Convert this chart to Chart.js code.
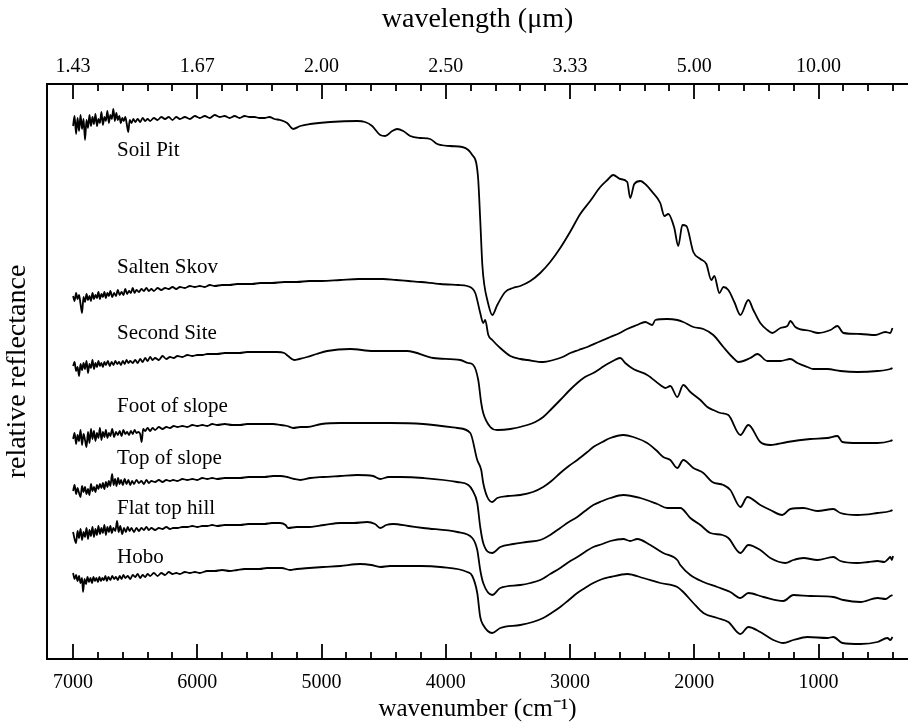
<!DOCTYPE html>
<html>
<head>
<meta charset="utf-8">
<script src="https://cdn.jsdelivr.net/npm/chart.js@4.4.0/dist/chart.umd.min.js"></script>
<style>
  html, body { margin: 0; padding: 0; background: #fff; }
  #wrap { width: 908px; height: 722px; position: relative; }
</style>
</head>
<body>
<div id="wrap"><canvas id="spectra"></canvas></div>
<script>
// sample names, top to bottom
const sampleNames = ['Soil Pit', 'Salten Skov', 'Second Site', 'Foot of slope', 'Top of slope', 'Flat top hill', 'Hobo'];

// bottom axis tick labels (cm-1), top axis shows 10000/wn in µm
const majorTicks = [7000, 6000, 5000, 4000, 3000, 2000, 1000];

// [wavenumber, relative reflectance (stacked, arbitrary units)]
const soilPit = [
  [7000,5.33],[6988,5.43],[6976,5.25],[6964,5.41],[6952,5.28],[6940,5.44],[6928,5.30],[6916,5.40],[6904,5.19],[6892,5.39],
  [6880,5.31],[6868,5.44],[6856,5.33],[6844,5.42],[6832,5.35],[6820,5.45],[6808,5.33],[6796,5.40],[6784,5.36],[6772,5.47],
  [6760,5.34],[6748,5.42],[6736,5.38],[6724,5.48],[6712,5.36],[6700,5.44],[6688,5.40],[6676,5.50],[6664,5.38],[6652,5.46],
  [6640,5.39],[6628,5.43],[6616,5.36],[6604,5.41],[6592,5.38],[6580,5.42],[6568,5.35],[6556,5.27],[6544,5.39],[6530,5.36],
  [6515,5.40],[6500,5.37],[6480,5.40],[6460,5.37],[6440,5.41],[6420,5.38],[6400,5.40],[6380,5.38],[6350,5.41],[6320,5.39],
  [6290,5.42],[6260,5.40],[6230,5.42],[6200,5.39],[6170,5.42],[6140,5.40],[6100,5.42],[6060,5.40],[6020,5.43],[5980,5.41],
  [5940,5.43],[5900,5.41],[5860,5.44],[5820,5.42],[5780,5.43],[5740,5.41],[5700,5.43],[5660,5.41],[5620,5.43],[5580,5.42],
  [5540,5.42],[5500,5.41],[5460,5.41],[5420,5.42],[5380,5.40],[5334,5.39],[5277,5.36],[5229,5.30],[5172,5.33],[5092,5.35],
  [4931,5.37],[4714,5.38],[4650,5.37],[4593,5.33],[4528,5.24],[4488,5.23],[4432,5.28],[4392,5.30],[4343,5.28],[4287,5.23],
  [4206,5.21],[4126,5.20],[4069,5.15],[3964,5.13],[3868,5.12],[3819,5.09],[3787,5.04],[3755,4.96],[3739,4.79],[3723,4.39],
  [3706,3.94],[3690,3.74],[3666,3.59],[3626,3.44],[3586,3.54],[3522,3.67],[3460,3.71],[3401,3.73],[3320,3.78],[3240,3.86],
  [3160,3.97],[3079,4.11],[3000,4.27],[2918,4.45],[2838,4.58],[2757,4.72],[2700,4.79],[2653,4.84],[2596,4.80],[2540,4.77],
  [2516,4.61],[2483,4.75],[2435,4.78],[2387,4.74],[2338,4.67],[2274,4.56],[2241,4.43],[2209,4.45],[2161,4.31],[2129,4.13],
  [2096,4.34],[2064,4.33],[2008,4.07],[1951,4.00],[1903,3.95],[1863,3.79],[1839,3.83],[1798,3.66],[1766,3.72],[1726,3.69],
  [1678,3.57],[1629,3.44],[1565,3.59],[1525,3.49],[1469,3.36],[1412,3.29],[1372,3.26],[1307,3.31],[1251,3.33],[1227,3.38],
  [1187,3.32],[1066,3.28],[1001,3.26],[904,3.29],[848,3.33],[800,3.26],[663,3.25],[543,3.24],[462,3.27],[422,3.26],[405,3.31]
];

const saltenSkov = [
  [7000,3.63],[6988,3.58],[6976,3.66],[6964,3.60],[6952,3.64],[6940,3.55],[6928,3.46],[6916,3.62],[6904,3.57],[6892,3.65],
  [6880,3.59],[6868,3.63],[6856,3.58],[6844,3.66],[6832,3.60],[6820,3.64],[6808,3.61],[6796,3.67],[6784,3.60],[6772,3.65],
  [6760,3.62],[6748,3.67],[6736,3.61],[6724,3.66],[6712,3.63],[6700,3.68],[6685,3.62],[6670,3.66],[6655,3.63],[6640,3.69],
  [6625,3.64],[6610,3.67],[6595,3.64],[6580,3.70],[6565,3.65],[6550,3.68],[6535,3.66],[6520,3.71],[6505,3.66],[6490,3.69],
  [6470,3.67],[6450,3.70],[6430,3.68],[6410,3.71],[6390,3.68],[6370,3.70],[6350,3.68],[6320,3.71],[6290,3.69],[6260,3.71],
  [6230,3.70],[6200,3.72],[6170,3.70],[6140,3.72],[6100,3.71],[6060,3.73],[6020,3.72],[5980,3.73],[5940,3.72],[5900,3.74],
  [5860,3.73],[5800,3.74],[5740,3.74],[5680,3.75],[5620,3.75],[5560,3.75],[5494,3.76],[5400,3.76],[5300,3.77],[5200,3.77],
  [5100,3.78],[5000,3.78],[4850,3.79],[4700,3.80],[4504,3.80],[4400,3.79],[4300,3.78],[4200,3.77],[4045,3.75],[3900,3.74],
  [3828,3.73],[3763,3.66],[3723,3.46],[3699,3.36],[3683,3.39],[3658,3.24],[3626,3.19],[3562,3.11],[3481,3.03],[3400,3.00],
  [3344,2.99],[3216,2.97],[3135,2.99],[3060,3.02],[2998,3.06],[2930,3.09],[2861,3.12],[2770,3.17],[2676,3.22],[2600,3.26],
  [2540,3.30],[2460,3.34],[2395,3.37],[2338,3.34],[2314,3.39],[2220,3.40],[2137,3.39],[2089,3.37],[2008,3.32],[1927,3.30],
  [1847,3.24],[1766,3.12],[1694,3.02],[1645,2.97],[1549,3.01],[1492,3.05],[1412,2.98],[1307,2.98],[1227,3.00],[1170,2.96],
  [1090,2.92],[1042,2.90],[929,2.90],[824,2.88],[687,2.87],[526,2.88],[422,2.90],[405,2.91]
];

const secondSite = [
  [7000,2.93],[6988,2.97],[6976,2.88],[6964,2.92],[6952,2.83],[6940,2.95],[6928,2.89],[6916,2.96],[6904,2.90],[6892,2.98],
  [6880,2.86],[6868,2.95],[6856,2.91],[6844,2.99],[6832,2.90],[6820,2.96],[6808,2.92],[6796,2.98],[6784,2.93],[6772,2.96],
  [6760,2.92],[6748,2.97],[6736,2.94],[6720,2.98],[6705,2.93],[6690,2.97],[6675,2.94],[6660,2.98],[6645,2.95],[6630,2.97],
  [6615,2.94],[6600,2.98],[6585,2.95],[6570,2.99],[6555,2.96],[6540,2.98],[6520,2.96],[6500,2.99],[6480,2.96],[6460,3.00],
  [6440,2.97],[6420,3.01],[6400,2.98],[6380,3.02],[6360,2.99],[6340,3.01],[6310,2.99],[6280,3.03],[6250,3.00],[6220,3.02],
  [6190,3.01],[6160,3.03],[6120,3.02],[6080,3.04],[6040,3.03],[6000,3.04],[5960,3.04],[5920,3.05],[5880,3.05],[5840,3.05],
  [5780,3.06],[5720,3.06],[5660,3.06],[5600,3.07],[5540,3.07],[5480,3.07],[5420,3.07],[5360,3.07],[5300,3.06],[5270,3.03],
  [5220,2.99],[5180,3.00],[5116,3.02],[5040,3.05],[4955,3.08],[4770,3.10],[4585,3.08],[4311,3.08],[4101,3.01],[3884,2.99],
  [3820,2.96],[3779,2.94],[3739,2.79],[3715,2.56],[3699,2.46],[3642,2.32],[3586,2.29],[3481,2.30],[3344,2.34],[3280,2.37],
  [3216,2.42],[3150,2.50],[3079,2.59],[3010,2.68],[2942,2.76],[2880,2.82],[2813,2.86],[2750,2.91],[2700,2.95],[2640,2.99],
  [2596,3.01],[2556,2.96],[2491,2.90],[2379,2.84],[2274,2.74],[2233,2.71],[2193,2.73],[2137,2.62],[2089,2.74],[2032,2.67],
  [1951,2.59],[1895,2.52],[1847,2.49],[1790,2.46],[1726,2.44],[1629,2.24],[1565,2.34],[1469,2.17],[1388,2.14],[1332,2.15],
  [1251,2.17],[1066,2.20],[929,2.21],[848,2.23],[808,2.17],[687,2.16],[526,2.16],[422,2.18],[405,2.19]
];

const footOfSlope = [
  [7000,2.20],[6988,2.26],[6976,2.15],[6964,2.24],[6952,2.18],[6940,2.29],[6928,2.14],[6916,2.25],[6904,2.19],[6892,2.12],
  [6880,2.27],[6868,2.16],[6856,2.30],[6844,2.20],[6832,2.28],[6820,2.18],[6808,2.26],[6796,2.21],[6784,2.31],[6772,2.19],
  [6760,2.27],[6748,2.22],[6736,2.29],[6724,2.21],[6712,2.26],[6700,2.23],[6685,2.30],[6670,2.22],[6655,2.27],[6640,2.24],
  [6625,2.28],[6610,2.23],[6595,2.29],[6580,2.25],[6565,2.27],[6550,2.24],[6535,2.28],[6520,2.25],[6505,2.29],[6490,2.26],
  [6475,2.27],[6460,2.25],[6448,2.17],[6436,2.30],[6420,2.28],[6400,2.31],[6380,2.28],[6360,2.31],[6340,2.29],[6310,2.32],
  [6280,2.30],[6250,2.32],[6220,2.31],[6190,2.33],[6160,2.32],[6120,2.33],[6080,2.32],[6040,2.34],[6000,2.33],[5960,2.34],
  [5920,2.33],[5880,2.35],[5840,2.34],[5780,2.35],[5720,2.34],[5655,2.34],[5600,2.35],[5540,2.35],[5480,2.35],[5420,2.35],
  [5390,2.35],[5330,2.34],[5277,2.33],[5229,2.31],[5170,2.32],[5116,2.32],[5000,2.35],[4850,2.36],[4700,2.36],[4448,2.36],
  [4182,2.35],[3908,2.31],[3803,2.26],[3747,1.99],[3715,1.89],[3699,1.76],[3666,1.62],[3626,1.57],[3586,1.61],[3500,1.63],
  [3401,1.64],[3300,1.67],[3216,1.72],[3150,1.78],[3079,1.86],[3010,1.93],[2942,1.99],[2861,2.07],[2813,2.12],[2740,2.17],
  [2676,2.21],[2571,2.24],[2491,2.22],[2379,2.16],[2300,2.08],[2250,2.02],[2193,1.99],[2137,1.91],[2089,1.99],[2008,1.91],
  [1927,1.86],[1855,1.77],[1766,1.74],[1710,1.69],[1629,1.52],[1573,1.62],[1469,1.54],[1388,1.49],[1291,1.44],[1227,1.50],
  [1122,1.51],[1009,1.48],[881,1.50],[824,1.46],[687,1.44],[526,1.46],[422,1.48],[405,1.49]
];

const topOfSlope = [
  [7000,1.68],[6988,1.74],[6976,1.65],[6964,1.71],[6952,1.66],[6940,1.62],[6928,1.73],[6916,1.67],[6904,1.72],[6892,1.65],
  [6880,1.70],[6868,1.64],[6856,1.75],[6844,1.68],[6832,1.72],[6820,1.67],[6808,1.74],[6796,1.70],[6784,1.75],[6772,1.71],
  [6760,1.76],[6748,1.70],[6736,1.77],[6724,1.72],[6712,1.78],[6700,1.73],[6686,1.85],[6674,1.74],[6662,1.80],[6650,1.73],
  [6638,1.81],[6626,1.75],[6614,1.79],[6600,1.74],[6585,1.80],[6570,1.75],[6555,1.79],[6540,1.74],[6525,1.78],[6510,1.75],
  [6490,1.79],[6470,1.76],[6450,1.78],[6430,1.75],[6410,1.79],[6390,1.76],[6370,1.78],[6340,1.77],[6310,1.79],[6280,1.77],
  [6250,1.79],[6220,1.78],[6195,1.79],[6160,1.78],[6120,1.80],[6080,1.79],[6040,1.80],[6000,1.79],[5960,1.81],[5920,1.80],
  [5880,1.81],[5840,1.80],[5780,1.81],[5720,1.81],[5655,1.81],[5590,1.82],[5520,1.82],[5460,1.82],[5390,1.83],[5330,1.83],
  [5277,1.82],[5220,1.80],[5172,1.79],[5090,1.81],[4987,1.82],[4850,1.83],[4713,1.84],[4585,1.83],[4528,1.80],[4460,1.82],
  [4367,1.82],[4182,1.81],[3908,1.77],[3819,1.74],[3787,1.69],[3747,1.56],[3723,1.32],[3699,1.16],[3626,1.06],[3562,1.12],
  [3457,1.15],[3350,1.17],[3240,1.19],[3160,1.24],[3079,1.31],[3010,1.37],[2942,1.42],[2880,1.48],[2813,1.54],[2740,1.58],
  [2676,1.61],[2571,1.64],[2435,1.61],[2298,1.55],[2217,1.51],[2113,1.51],[2032,1.41],[1951,1.34],[1871,1.26],[1774,1.24],
  [1726,1.21],[1629,1.06],[1565,1.14],[1469,1.09],[1388,1.01],[1267,0.96],[1203,0.99],[1122,1.01],[1009,0.99],[881,1.02],
  [824,0.98],[687,0.96],[600,0.97],[526,0.98],[470,0.97],[440,1.00],[422,1.02],[410,0.99],[400,1.03]
];

const flatTopHill = [
  [7000,1.27],[6988,1.20],[6976,1.16],[6964,1.28],[6952,1.21],[6940,1.30],[6928,1.19],[6916,1.27],[6904,1.22],[6892,1.31],
  [6880,1.20],[6868,1.29],[6856,1.23],[6844,1.32],[6832,1.22],[6820,1.30],[6808,1.24],[6796,1.33],[6784,1.25],[6772,1.31],
  [6760,1.26],[6748,1.34],[6736,1.24],[6724,1.32],[6712,1.27],[6700,1.33],[6688,1.26],[6676,1.31],[6660,1.28],[6646,1.38],
  [6634,1.27],[6620,1.33],[6605,1.25],[6590,1.31],[6575,1.27],[6560,1.32],[6545,1.28],[6530,1.31],[6510,1.27],[6490,1.31],
  [6470,1.28],[6450,1.31],[6430,1.29],[6410,1.32],[6390,1.29],[6370,1.31],[6340,1.29],[6310,1.31],[6280,1.30],[6250,1.32],
  [6220,1.30],[6195,1.31],[6160,1.31],[6120,1.32],[6080,1.32],[6040,1.33],[6000,1.32],[5960,1.33],[5920,1.33],[5880,1.34],
  [5840,1.33],[5780,1.34],[5720,1.34],[5655,1.34],[5590,1.35],[5520,1.35],[5460,1.35],[5400,1.36],[5334,1.36],[5290,1.34],
  [5269,1.31],[5200,1.32],[5116,1.32],[4980,1.34],[4850,1.36],[4740,1.36],[4633,1.37],[4570,1.35],[4528,1.31],[4480,1.34],
  [4423,1.35],[4300,1.33],[4182,1.31],[3908,1.27],[3787,1.21],[3747,1.09],[3723,0.89],[3699,0.76],[3626,0.64],[3562,0.71],
  [3401,0.74],[3320,0.76],[3240,0.79],[3160,0.85],[3079,0.91],[3010,0.97],[2942,1.02],[2880,1.07],[2813,1.12],[2740,1.15],
  [2676,1.18],[2571,1.20],[2516,1.18],[2459,1.20],[2354,1.14],[2250,1.06],[2137,0.99],[2113,0.94],[2032,0.84],[1927,0.77],
  [1815,0.72],[1710,0.67],[1629,0.61],[1565,0.66],[1444,0.62],[1283,0.58],[1203,0.64],[1066,0.63],[881,0.62],[800,0.59],
  [663,0.57],[526,0.61],[460,0.60],[422,0.63],[405,0.64]
];

const hobo = [
  [7000,0.86],[6988,0.80],[6976,0.84],[6964,0.78],[6952,0.83],[6940,0.76],[6928,0.81],[6920,0.67],[6908,0.80],[6896,0.75],
  [6884,0.82],[6872,0.77],[6860,0.81],[6848,0.76],[6836,0.82],[6824,0.78],[6812,0.81],[6800,0.77],[6788,0.82],[6776,0.78],
  [6764,0.81],[6752,0.79],[6740,0.83],[6728,0.78],[6716,0.82],[6700,0.79],[6685,0.83],[6670,0.80],[6655,0.82],[6640,0.79],
  [6625,0.83],[6610,0.80],[6595,0.84],[6580,0.81],[6560,0.83],[6540,0.80],[6520,0.84],[6500,0.82],[6480,0.85],[6460,0.81],
  [6440,0.84],[6420,0.82],[6400,0.85],[6380,0.83],[6350,0.86],[6320,0.83],[6290,0.86],[6260,0.84],[6230,0.87],[6200,0.85],
  [6170,0.86],[6140,0.85],[6100,0.87],[6060,0.86],[6020,0.87],[5980,0.86],[5921,0.88],[5860,0.88],[5800,0.89],[5740,0.88],
  [5680,0.89],[5620,0.90],[5560,0.90],[5500,0.90],[5440,0.91],[5390,0.91],[5320,0.91],[5253,0.89],[5200,0.90],[5100,0.91],
  [4987,0.92],[4850,0.93],[4689,0.95],[4600,0.94],[4528,0.92],[4450,0.93],[4367,0.93],[4200,0.93],[4045,0.92],[3828,0.87],
  [3787,0.83],[3747,0.66],[3723,0.42],[3699,0.34],[3626,0.26],[3562,0.31],[3401,0.34],[3300,0.37],[3216,0.41],[3150,0.46],
  [3079,0.52],[3010,0.59],[2942,0.66],[2880,0.71],[2813,0.76],[2740,0.80],[2676,0.82],[2540,0.85],[2411,0.81],[2274,0.76],
  [2137,0.72],[2089,0.67],[2008,0.56],[1927,0.46],[1815,0.41],[1726,0.37],[1629,0.25],[1565,0.32],[1469,0.27],[1364,0.19],
  [1283,0.16],[1203,0.19],[1090,0.22],[929,0.21],[881,0.22],[808,0.16],[663,0.15],[526,0.17],[446,0.21],[422,0.19],[405,0.22]
];

const spectra = [soilPit, saltenSkov, secondSite, footOfSlope, topOfSlope, flatTopHill, hobo];

// where each sample name is written (wavenumber, reflectance)
const labelWn = 6646;
const labelR = [5.09, 3.92, 3.26, 2.53, 2.01, 1.51, 1.02];

const FONT = '"Liberation Serif", "Times New Roman", serif';

// inward tick marks every 200 cm-1, long ones on the thousands
const tickMarks = {
  id: 'tickMarks',
  afterDraw(chart) {
    const { ctx, chartArea, scales } = chart;
    const xs = scales.x;
    ctx.save();
    ctx.strokeStyle = '#000';
    ctx.lineWidth = 1.8;
    ctx.beginPath();
    for (let v = 7000; v >= 400; v -= 200) {
      const px = Math.round(xs.getPixelForValue(v));
      const len = v % 1000 === 0 ? 15 : 7;
      ctx.moveTo(px, chartArea.bottom);
      ctx.lineTo(px, chartArea.bottom - len);
      ctx.moveTo(px, chartArea.top);
      ctx.lineTo(px, chartArea.top + len);
    }
    ctx.stroke();
    ctx.restore();
  }
};

const sampleLabels = {
  id: 'sampleLabels',
  afterDatasetsDraw(chart) {
    const { ctx, scales } = chart;
    ctx.save();
    ctx.fillStyle = '#000';
    ctx.font = '21px ' + FONT;
    ctx.textAlign = 'left';
    ctx.textBaseline = 'middle';
    sampleNames.forEach((name, i) => {
      ctx.fillText(name, scales.x.getPixelForValue(labelWn), scales.y.getPixelForValue(labelR[i]));
    });
    ctx.restore();
  }
};

const setMajorTicks = (scale) => {
  scale.ticks = majorTicks.map(v => ({ value: v }));
};

new Chart(document.getElementById('spectra'), {
  type: 'line',
  data: {
    datasets: spectra.map((s, i) => ({
      label: sampleNames[i],
      data: s.map(p => ({ x: p[0], y: p[1] })),
      borderColor: '#000',
      borderWidth: 1.8,
      pointRadius: 0,
      cubicInterpolationMode: 'monotone',
      fill: false,
    })),
  },
  options: {
    responsive: true,
    maintainAspectRatio: false,
    animation: false,
    layout: { padding: { left: 0, right: 0, top: 0, bottom: 0 } },
    plugins: {
      legend: { display: false },
      tooltip: { enabled: false },
    },
    scales: {
      x: {
        type: 'linear',
        position: 'bottom',
        reverse: true,
        min: 280,
        max: 7210,
        afterBuildTicks: setMajorTicks,
        grid: { display: false, drawTicks: false },
        border: { display: true, color: '#000', width: 2 },
        ticks: {
          color: '#000',
          font: { family: FONT, size: 20, lineHeight: 1 },
          padding: 14,
          maxRotation: 0,
          autoSkip: false,
          callback: v => String(v),
        },
        title: {
          display: true,
          text: 'wavenumber (cm⁻¹)',
          color: '#000',
          font: { family: FONT, size: 25, lineHeight: 1 },
          padding: { top: -10, bottom: 0 },
        },
      },
      x2: {
        type: 'linear',
        position: 'top',
        reverse: true,
        min: 280,
        max: 7210,
        afterBuildTicks: setMajorTicks,
        grid: { display: false, drawTicks: false },
        border: { display: true, color: '#000', width: 2 },
        ticks: {
          color: '#000',
          font: { family: FONT, size: 20, lineHeight: 1 },
          padding: 7,
          maxRotation: 0,
          autoSkip: false,
          callback: v => (10000 / v).toFixed(2),
        },
        title: {
          display: true,
          text: 'wavelength (μm)',
          color: '#000',
          font: { family: FONT, size: 28, lineHeight: 1 },
          padding: { top: 6, bottom: 16 },
        },
      },
      y: {
        type: 'linear',
        min: 0,
        max: 5.75,
        grid: { display: false, drawTicks: false },
        border: { display: true, color: '#000', width: 2 },
        ticks: { display: false },
        title: {
          display: true,
          text: 'relative reflectance',
          color: '#000',
          font: { family: FONT, size: 28, lineHeight: 1 },
          padding: { top: 4, bottom: 15 },
        },
      },
    },
  },
  plugins: [tickMarks, sampleLabels],
});
</script>
</body>
</html>
